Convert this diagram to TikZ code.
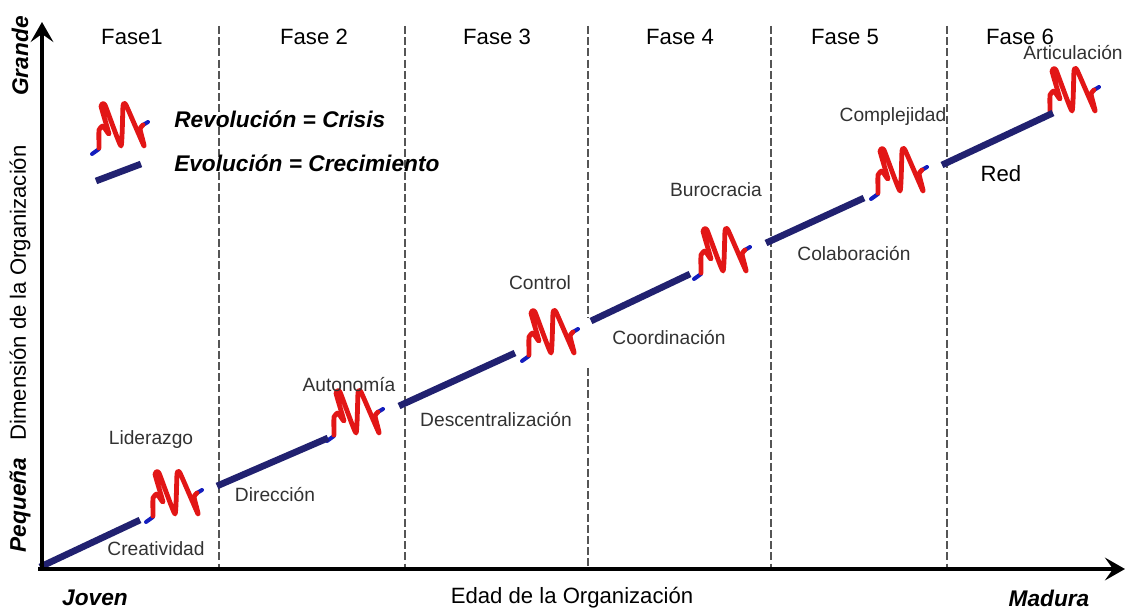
\documentclass[tikz,border=0pt]{standalone}
\usepackage{fontspec}
\setmainfont{Liberation Sans}
\usetikzlibrary{arrows.meta}
\definecolor{evol}{RGB}{33,33,112}
\definecolor{revol}{RGB}{226,22,22}
\definecolor{revolend}{RGB}{20,30,190}
\definecolor{grisfase}{RGB}{85,85,85}
\definecolor{gristxt}{RGB}{50,50,50}
\tikzset{
  eje/.style={line width=3pt,-{Stealth[length=15pt,width=17pt,inset=6pt]}},
  fasediv/.style={grisfase,line width=2.2pt,dash pattern=on 6pt off 2.4pt},
  evolucion/.style={evol,line width=5pt},
  fase/.style={font=\fontsize{16.6}{18}\selectfont,text=black,inner sep=0.75pt},
  etapa/.style={font=\fontsize{14.4}{16}\selectfont,text=gristxt,inner sep=0.75pt},
  clave/.style={font=\fontsize{17}{19}\selectfont\bfseries\itshape,text=black,inner sep=0.75pt},
  crisis/.pic={
    \draw [revolend,line width=3pt,line cap=round] (-30,27) -- (-23,22) ;
    \draw [revolend,line width=3pt,line cap=round] (21,-2) -- (26,-5) ;
    \draw [revol,line width=3.6pt,line join=round,line cap=round] plot [smooth,tension=0.25] coordinates {(-23,21) (-23,3) (-19,-1) (-13,7) (-21,-21) (-17,-22) (-1,19) (1,-21) (4,-22) (22,19) (18,2) (21,-2)} ;
  }
}

\begin{document}
\begin{tikzpicture}[x=0.75pt,y=0.75pt,yscale=-1,xscale=1]
\useasboundingbox (0,0) rectangle (1125,610);

%Phase dividers
\draw [fasediv] (219,26) -- (219,569) ;
\draw [fasediv] (405,26) -- (405,569) ;
\draw [fasediv] (588,26) -- (588,318) ;
\draw [fasediv] (588,368) -- (588,569) ;
\draw [fasediv] (771,26) -- (771,569) ;
\draw [fasediv] (947,26) -- (947,569) ;

%Crisis squiggles
\path (122,127) pic [transform shape] {crisis} ;
\path (176,495) pic [transform shape] {crisis} ;
\path (357,414) pic [transform shape] {crisis} ;
\path (552,334) pic [transform shape] {crisis} ;
\path (724,252) pic [transform shape] {crisis} ;
\path (901,172) pic [transform shape] {crisis} ;
\path (1073,92) pic [transform shape] {crisis} ;

%Evolution segments
\coordinate (ev1a) at (40,567); \coordinate (ev1b) at (140,520);
\coordinate (ev2a) at (217,486); \coordinate (ev2b) at (328,438);
\coordinate (ev3a) at (399,406); \coordinate (ev3b) at (515,353);
\coordinate (ev4a) at (591,321); \coordinate (ev4b) at (690,274);
\coordinate (ev5a) at (766,243); \coordinate (ev5b) at (864,198);
\coordinate (ev6a) at (942,165); \coordinate (ev6b) at (1053,113);
\coordinate (leyA) at (96,181); \coordinate (leyB) at (141,164);
\draw [evolucion] (ev1a) -- (ev1b) ;
\draw [evolucion] (ev2a) -- (ev2b) ;
\draw [evolucion] (ev3a) -- (ev3b) ;
\draw [evolucion] (ev4a) -- (ev4b) ;
\draw [evolucion] (ev5a) -- (ev5b) ;
\draw [evolucion] (ev6a) -- (ev6b) ;
\draw [evolucion] (leyA) -- (leyB) ;

%Axes
\coordinate (origen) at (42,569);
\coordinate (ejeY) at (42,22);
\coordinate (ejeX) at (1125,569);
\draw [eje] (38,569) -- (ejeX) ;
\draw [eje] (origen) -- (ejeY) ;

% Text Node
\node [fase] (fase1) at (132,37) {Fase1};
\node [fase] (fase2) at (314,37) {Fase 2};
\node [fase] (fase3) at (497,37) {Fase 3};
\node [fase] (fase4) at (680,37) {Fase 4};
\node [fase] (fase5) at (845,37) {Fase 5};
\node [fase] (fase6) at (1020,37) {Fase 6};
% Text Node
\node [etapa] (articulacion) at (1073,53) {Articulación};
\node [etapa] (complejidad) at (893,117) {Complejidad};
\node [etapa] (burocracia) at (716,190) {Burocracia};
\node [etapa] (control) at (540,283) {Control};
\node [etapa] (autonomia) at (349,385) {Autonomía};
\node [etapa] (liderazgo) at (151,440) {Liderazgo};
\node [etapa] (creatividad) at (156,549) {Creatividad};
\node [etapa] (direccion) at (275,495) {Dirección};
\node [etapa] (descentral) at (496,420) {Descentralización};
\node [etapa] (coordinacion) at (669,338) {Coordinación};
\node [etapa] (colaboracion) at (854,254) {Colaboración};
\node [fase] (red) at (1001,174) {Red};
% Text Node
\node [clave,anchor=west] (revolucion) at (173,119) {Revolución = Crisis};
\node [clave,anchor=west] (evolucionkey) at (173,163) {Evolución = Crecimiento};
% Text Node
\node [clave] (joven) at (95,598) {Joven};
\node [fase] (edad) at (572,598) {Edad de la Organización};
\node [clave] (madura) at (1049,598) {Madura};
% Text Node
\node [clave,rotate=90] (grande) at (20,56) {Grande};
\node [fase,rotate=90] (dimension) at (20,293) {Dimensión de la Organización};
\node [clave,rotate=90] (pequena) at (20,505) {Pequeña};

\end{tikzpicture}
\end{document}
